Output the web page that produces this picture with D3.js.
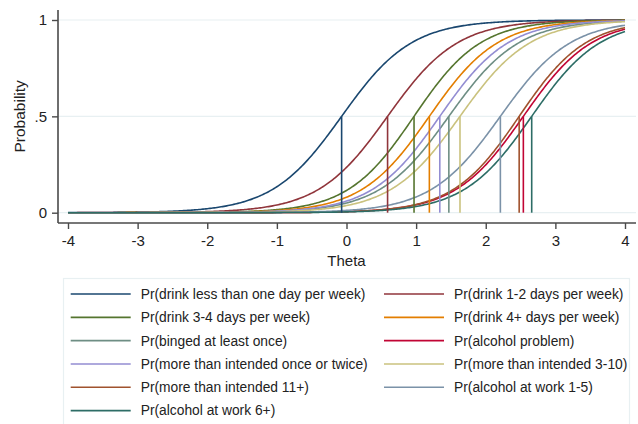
<!DOCTYPE html>
<html>
<head>
<meta charset="utf-8">
<script src="https://cdn.jsdelivr.net/npm/d3@7"></script>
<style>
  body { margin: 0; background: #fff; }
  svg { display: block; font-family: "Liberation Sans", Arial, sans-serif; }
</style>
</head>
<body>
<div id="chart"></div>
<script>
const items = [
  "Pr(drink less than one day per week)",
  "Pr(drink 1-2 days per week)",
  "Pr(drink 3-4 days per week)",
  "Pr(drink 4+ days per week)",
  "Pr(binged at least once)",
  "Pr(alcohol problem)",
  "Pr(more than intended once or twice)",
  "Pr(more than intended 3-10)",
  "Pr(more than intended 11+)",
  "Pr(alcohol at work 1-5)",
  "Pr(alcohol at work 6+)"
];
// item difficulty (theta where P = .5) and discrimination
const difficulty = [-0.07, 0.59, 0.97, 1.19, 1.47, 2.54, 1.34, 1.63, 2.48, 2.21, 2.66];
const discrimination = [2.0, 2.0, 2.1, 2.05, 2.0, 2.05, 2.05, 2.0, 2.1, 2.0, 2.05];
const colors = ["#1a476f", "#90353b", "#55752f", "#e37e00", "#6e8e84", "#c10534",
  "#938dd2", "#cac27e", "#a0522d", "#7b92a8", "#2d6d66"];
const xTicks = [-4, -3, -2, -1, 0, 1, 2, 3, 4];
const yTicks = [0, 0.5, 1];
const yTickLabels = ["0", ".5", "1"];

const width = 638;
const height = 424;

const svg = d3.select("#chart").append("svg")
  .attr("width", width)
  .attr("height", height);

const x = d3.scaleLinear().domain([-4, 4]).range([68, 625]);
const y = d3.scaleLinear().domain([0, 1]).range([212.7, 20]);

const plotLeft = 58, plotRight = 636, plotTop = 10, plotBottom = 223;
const axisColor = "#4a4a4a";
const textColor = "#222";

// gridlines
svg.append("g")
  .selectAll("line")
  .data(yTicks)
  .join("line")
  .attr("x1", plotLeft).attr("x2", plotRight)
  .attr("y1", (d) => y(d)).attr("y2", (d) => y(d))
  .attr("stroke", "#e8f0f2")
  .attr("stroke-width", 1.2);

// curves
const thetas = d3.range(-4, 4.0001, 0.02);
const line = d3.line()
  .x((d) => x(d[0]))
  .y((d) => y(d[1]));

const icc = (i) => thetas.map((t) => [t, 1 / (1 + Math.exp(-discrimination[i] * (t - difficulty[i])))]);

svg.append("g")
  .selectAll("path")
  .data(items)
  .join("path")
  .attr("d", (d, i) => line(icc(i)))
  .attr("fill", "none")
  .attr("stroke", (d, i) => colors[i])
  .attr("stroke-width", 1.6);

// drop lines at P = .5
svg.append("g")
  .selectAll("line")
  .data(difficulty)
  .join("line")
  .attr("x1", (d) => x(d)).attr("x2", (d) => x(d))
  .attr("y1", y(0.5)).attr("y2", y(0))
  .attr("stroke", (d, i) => colors[i])
  .attr("stroke-width", 1.6);

// x axis
const xAxis = svg.append("g")
  .attr("transform", `translate(0,${plotBottom})`)
  .call(d3.axisBottom(x).tickValues(xTicks).tickSize(6).tickPadding(6).tickFormat(d3.format("d")));
xAxis.select(".domain").remove();
xAxis.append("line")
  .attr("x1", plotLeft).attr("x2", plotRight)
  .attr("stroke", axisColor).attr("stroke-width", 1.6);
xAxis.selectAll(".tick line").attr("stroke", axisColor).attr("stroke-width", 1.4);
xAxis.selectAll(".tick text")
  .attr("fill", textColor)
  .style("font-size", "15px")
  .text((d) => d < 0 ? "-" + Math.abs(d) : d);

// y axis
const yAxis = svg.append("g")
  .attr("transform", `translate(${plotLeft},0)`)
  .call(d3.axisLeft(y).tickValues(yTicks).tickSize(6).tickPadding(5)
    .tickFormat((d, i) => yTickLabels[i]));
yAxis.select(".domain").remove();
yAxis.append("line")
  .attr("y1", plotTop).attr("y2", plotBottom)
  .attr("stroke", axisColor).attr("stroke-width", 1.6);
yAxis.selectAll(".tick line").attr("stroke", axisColor).attr("stroke-width", 1.4);
yAxis.selectAll(".tick text")
  .attr("fill", textColor)
  .style("font-size", "15px");

// axis titles
svg.append("text")
  .attr("x", x(0))
  .attr("y", 266)
  .attr("text-anchor", "middle")
  .attr("fill", textColor)
  .style("font-size", "15px")
  .text("Theta");

svg.append("text")
  .attr("transform", `translate(25,${y(0.5)}) rotate(-90)`)
  .attr("text-anchor", "middle")
  .attr("fill", textColor)
  .style("font-size", "15.5px")
  .text("Probability");

// legend
svg.append("rect")
  .attr("x", 63.5).attr("y", 278.5)
  .attr("width", 566).attr("height", 150)
  .attr("fill", "#fff")
  .attr("stroke", "#e8f0f2")
  .attr("stroke-width", 1.2);

const legend = svg.append("g")
  .selectAll("g")
  .data(items)
  .join("g")
  .attr("transform", (d, i) => `translate(${i % 2 === 0 ? 70.7 : 384},${294 + Math.floor(i / 2) * 23.33})`);

legend.append("line")
  .attr("x1", 0).attr("x2", 60)
  .attr("stroke", (d, i) => colors[i])
  .attr("stroke-width", 1.6);

legend.append("text")
  .attr("x", 70)
  .attr("dy", "0.35em")
  .attr("fill", textColor)
  .style("font-size", "13.8px")
  .text((d) => d);
</script>
</body>
</html>
